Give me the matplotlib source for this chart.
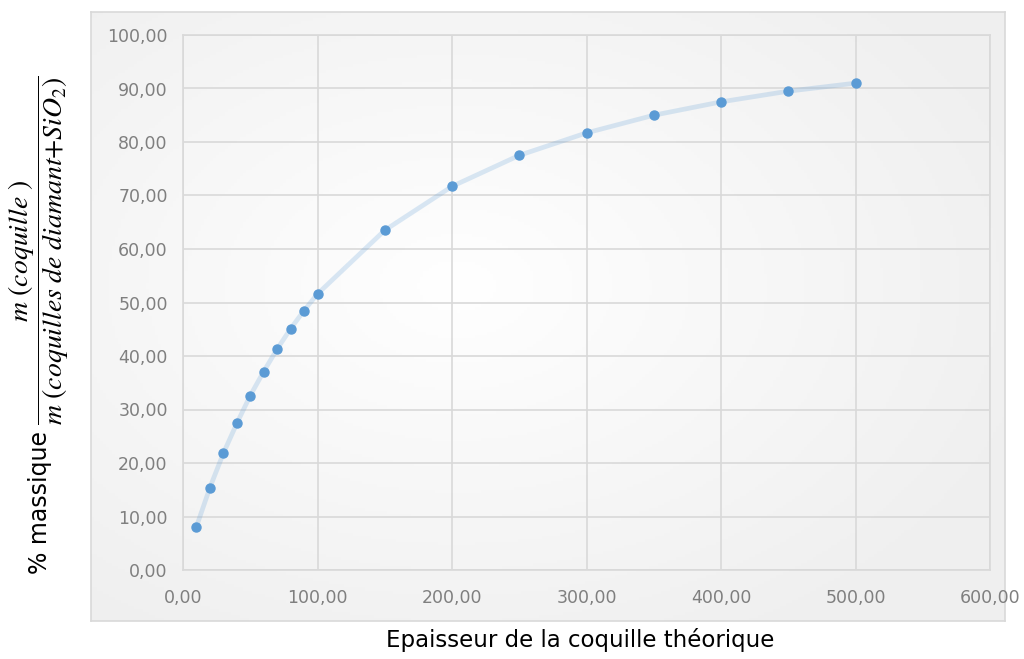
import numpy as np
import matplotlib
matplotlib.use('Agg')
import matplotlib.pyplot as plt

# Data
epaisseur = [10, 20, 30, 40, 50, 60, 70, 80, 90, 100,
             150, 200, 250, 300, 350, 400, 450, 500]
pourcentage = [8.1, 15.4, 21.8, 27.4, 32.6, 37.1, 41.3, 45.1, 48.5, 51.6,
               63.5, 71.7, 77.5, 81.7, 85.0, 87.5, 89.5, 91.0]

x_ticks = [0, 100, 200, 300, 400, 500, 600]
y_ticks = [0, 10, 20, 30, 40, 50, 60, 70, 80, 90, 100]

plt.rcParams['font.family'] = ['DejaVu Sans']
plt.rcParams['mathtext.fontset'] = 'stix'

W, H = 1024, 659
fig = plt.figure(figsize=(W / 100, H / 100), dpi=100)

# plot-area box with soft radial gradient (Excel style)
bg = fig.add_axes([91 / W, 1 - 621 / H, (1005 - 91) / W, (621 - 12) / H], zorder=0)
gx, gy = np.meshgrid(np.linspace(-1, 1, 300), np.linspace(-1, 1, 200))
r = np.clip(np.sqrt((gx + 0.2) ** 2 + (gy + 0.1) ** 2) / 1.3, 0, 1)
shade = 1.0 - 0.06 * r
bg.imshow(np.dstack([shade, shade, shade]), aspect='auto', extent=[0, 1, 0, 1])
bg.set_xticks([])
bg.set_yticks([])
for s in bg.spines.values():
    s.set_color('#d9d9d9')
    s.set_linewidth(1.2)

ax = fig.add_axes([183 / W, 1 - 570 / H, (990 - 183) / W, (570 - 35) / H], zorder=1)
ax.set_facecolor('none')

ax.plot(epaisseur, pourcentage, color='#5b9bd5', alpha=0.22, linewidth=3.4,
        solid_capstyle='round', zorder=2)
ax.plot(epaisseur, pourcentage, linestyle='none', marker='o', markersize=6.5,
        color='#5b9bd5', zorder=3)

ax.set_xlim(0, 600)
ax.set_ylim(0, 100)
ax.set_xticks(x_ticks)
ax.set_yticks(y_ticks)
ax.set_xticklabels([f'{v:.2f}'.replace('.', ',') for v in x_ticks])
ax.set_yticklabels([f'{v:.2f}'.replace('.', ',') for v in y_ticks])
ax.tick_params(length=0, labelsize=12.5, labelcolor='#7f7f7f')
ax.tick_params(axis='y', pad=11)
ax.tick_params(axis='x', pad=14)
ax.grid(True, color='#d9d9d9', linewidth=1.2)
ax.set_axisbelow(True)
for s in ax.spines.values():
    s.set_color('#d9d9d9')
    s.set_linewidth(1.2)

fig.text(580 / W, 1 - 640 / H, 'Epaisseur de la coquille théorique',
         ha='center', va='center', fontsize=16.5, color='black')
fig.text(40 / W, 1 - 502 / H, '% massique',
         ha='center', va='center', rotation=90, fontsize=17, color='black')
fig.text(39 / W, 1 - 250 / H,
         r'$\dfrac{m\ (coquille\ )}{m\ (coquilles\ de\ diamant{+}SiO_2)}$',
         ha='center', va='center', rotation=90, fontsize=20, color='black')

fig.savefig('out.png', dpi=100)
